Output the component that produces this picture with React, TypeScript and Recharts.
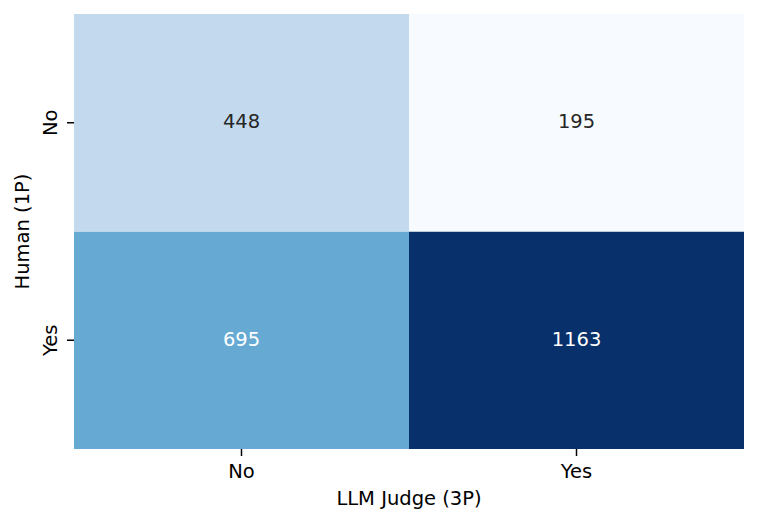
import { BarChart, Bar, XAxis, YAxis, Cell, LabelList, Label } from 'recharts';

// confusion matrix: rows = Human (1P), columns = LLM Judge (3P)
const judgeLabels = ['No', 'Yes'];
const humanLabels = ['No', 'Yes'];
const humanNoCounts = [448, 195];
const humanYesCounts = [695, 1163];

const FONT = 'DejaVu Sans, sans-serif';
const FS = 19.5;

// matplotlib "Blues" stops
const BLUES = ['#f7fbff', '#deebf7', '#c6dbef', '#9ecae1', '#6baed6', '#4292c6', '#2171b5', '#08519c', '#08306b'];

const allCounts = [...humanNoCounts, ...humanYesCounts];
const vmin = Math.min(...allCounts);
const vmax = Math.max(...allCounts);

function hex(c: string) {
  return [1, 3, 5].map((i) => parseInt(c.slice(i, i + 2), 16));
}

function blues(v: number) {
  const t = (v - vmin) / (vmax - vmin);
  const p = t * (BLUES.length - 1);
  const i = Math.min(Math.floor(p), BLUES.length - 2);
  const f = p - i;
  const a = hex(BLUES[i]);
  const b = hex(BLUES[i + 1]);
  const rgb = a.map((x, k) => Math.round(x + (b[k] - x) * f));
  return `rgb(${rgb.join(',')})`;
}

function textColor(v: number) {
  const t = (v - vmin) / (vmax - vmin);
  return t > 0.4 ? '#ffffff' : '#262626';
}

const data = judgeLabels.map((j, i) => ({
  judge: j,
  rowYes: 1,
  rowNo: 1,
  yesCount: humanYesCounts[i],
  noCount: humanNoCounts[i],
}));

const renderCount = (props: any) => {
  const { x, y, width, height, value } = props;
  return (
    <text
      x={x + width / 2}
      y={y + height / 2 - 1}
      textAnchor="middle"
      dominantBaseline="central"
      fontFamily={FONT}
      fontSize={FS}
      fill={textColor(value)}
    >
      {value}
    </text>
  );
};

const XTick = (props: any) => {
  const { x, payload } = props;
  return (
    <text x={x} y={471} textAnchor="middle" dominantBaseline="central" fontFamily={FONT} fontSize={FS} fill="#000">
      {payload.value}
    </text>
  );
};

const YTick = (props: any) => {
  const { y, payload } = props;
  const label = payload.value > 1 ? humanLabels[0] : humanLabels[1];
  return (
    <text
      x={50}
      y={y}
      transform={`rotate(-90 50 ${y})`}
      textAnchor="middle"
      dominantBaseline="central"
      fontFamily={FONT}
      fontSize={FS}
      fill="#000"
    >
      {label}
    </text>
  );
};

export default function App() {
  return (
    <div style={{ position: 'absolute', left: 0, top: 0, background: '#fff' }}>
      <BarChart
        width={758}
        height={523}
        data={data}
        margin={{ top: 14, right: 14, left: 0, bottom: 0 }}
        barCategoryGap={0}
        barGap={0}
      >
        <XAxis
          dataKey="judge"
          height={74}
          axisLine={false}
          tickSize={7}
          tickLine={{ stroke: '#000', strokeWidth: 1.5 }}
          tick={<XTick />}
        >
          <Label
            content={(p: any) => {
              const vb = p.viewBox;
              return (
                <text x={vb.x + vb.width / 2} y={498} textAnchor="middle" dominantBaseline="central" fontFamily={FONT} fontSize={FS} fill="#000">
                  LLM Judge (3P)
                </text>
              );
            }}
          />
        </XAxis>
        <YAxis
          type="number"
          domain={[0, 2]}
          ticks={[0.5, 1.5]}
          width={74}
          axisLine={false}
          tickSize={7}
          tickLine={{ stroke: '#000', strokeWidth: 1.5 }}
          tick={<YTick />}
        >
          <Label
            content={(p: any) => {
              const vb = p.viewBox;
              const cy = vb.y + vb.height / 2;
              return (
                <text
                  x={22}
                  y={cy}
                  transform={`rotate(-90 22 ${cy})`}
                  textAnchor="middle"
                  dominantBaseline="central"
                  fontFamily={FONT}
                  fontSize={FS}
                  fill="#000"
                >
                  Human (1P)
                </text>
              );
            }}
          />
        </YAxis>
        <Bar dataKey="rowYes" stackId="m" isAnimationActive={false}>
          {data.map((d, i) => (
            <Cell key={`y${i}`} fill={blues(d.yesCount)} />
          ))}
          <LabelList dataKey="yesCount" content={renderCount} />
        </Bar>
        <Bar dataKey="rowNo" stackId="m" isAnimationActive={false}>
          {data.map((d, i) => (
            <Cell key={`n${i}`} fill={blues(d.noCount)} />
          ))}
          <LabelList dataKey="noCount" content={renderCount} />
        </Bar>
      </BarChart>
    </div>
  );
}
